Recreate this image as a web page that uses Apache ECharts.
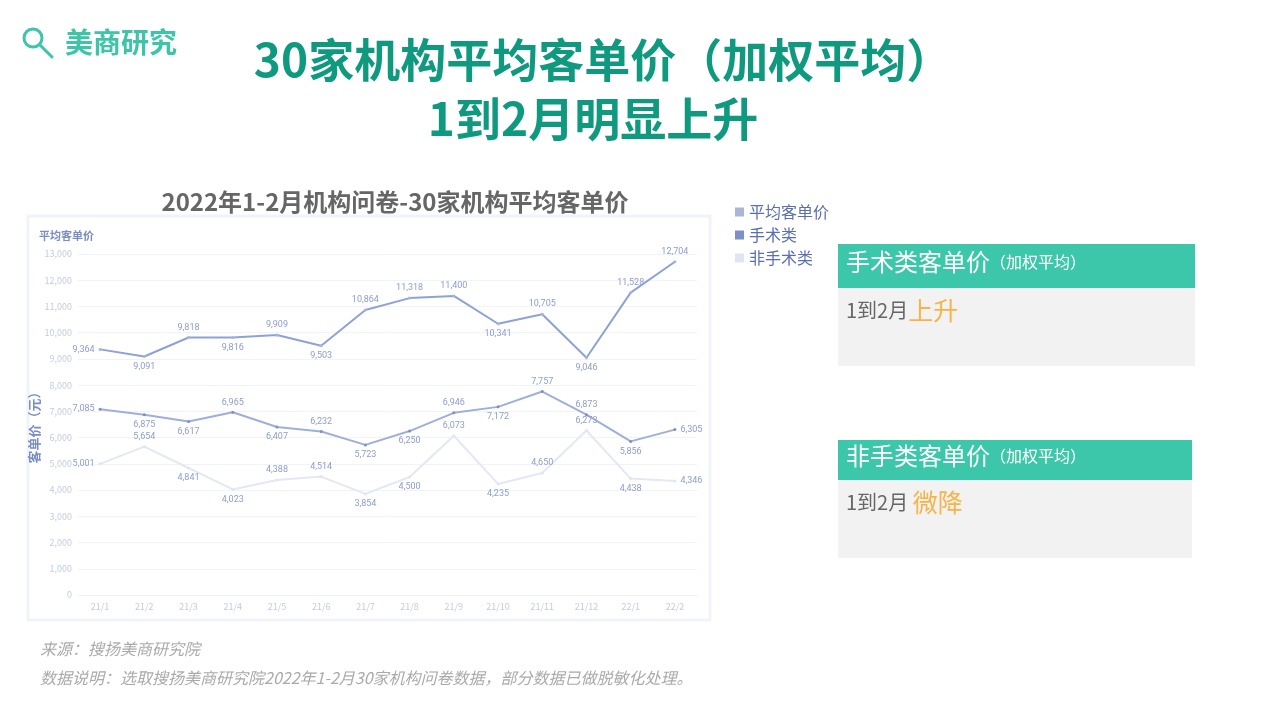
<!DOCTYPE html>
<html><head><meta charset="utf-8">
<script src="https://cdn.jsdelivr.net/npm/echarts@6/dist/echarts.min.js"></script>
<style>html,body{margin:0;padding:0;background:#fff;}#c{width:1268px;height:713px;}</style>
</head><body><div id="c"></div>
<script>
const categories = ['21/1','21/2','21/3','21/4','21/5','21/6','21/7','21/8','21/9','21/10','21/11','21/12','22/1','22/2'];
const avgValues = [9364, 9091, 9818, 9816, 9909, 9503, 10864, 11318, 11400, 10341, 10705, 9046, 11528, 12704];
const surgeryValues = [7085, 6875, 6617, 6965, 6407, 6232, 5723, 6250, 6946, 7172, 7757, 6873, 5856, 6305];
const nonSurgeryValues = [5001, 5654, 4841, 4023, 4388, 4514, 3854, 4500, 6073, 4235, 4650, 6273, 4438, 4346];
const seriesNames = ['平均客单价', '手术类', '非手术类'];
const avgLabelPos = ['left','bottom','top','bottom','top','bottom','top','top','top','bottom','top','bottom','top','top'];
const surgeryLabelPos = ['left','bottom','bottom','top','bottom','top','bottom','bottom','top','bottom','top','top','bottom','right'];
const nonSurgeryLabelPos = ['left','top','bottom','bottom','top','top','bottom','bottom','top','bottom','top','top','bottom','right'];

const chart = echarts.init(document.getElementById('c'));
const fmt = v => Number(v).toLocaleString('en-US');
function mk(vals, pos) {
  return vals.map((v, i) => ({ value: v, label: { position: pos[i] } }));
}
const labelStyle = { show: true, fontSize: 9, color: '#8d9dcb', distance: 4, formatter: p => fmt(p.value), fontFamily: 'Roboto' };
const teal = '#0f9a80';
const logo = '#3cc5a8';
const cjk = '"Noto Sans CJK SC"';
chart.setOption({
  animation: false,
  textStyle: { fontFamily: '"Noto Sans CJK SC", "Noto Sans", sans-serif' },
  title: [
    { text: '30家机构平均客单价（加权平均）', left: 598, textAlign: 'center', top: 32, textStyle: { fontSize: 46, fontWeight: 'bold', color: teal } },
    { text: '1到2月明显上升', left: 588, textAlign: 'center', top: 91, textStyle: { fontSize: 46, fontWeight: 'bold', color: teal } },
    { text: '2022年1-2月机构问卷-30家机构平均客单价', left: 390, textAlign: 'center', top: 185, textStyle: { fontSize: 24, fontWeight: 'bold', color: '#666' } },
    { text: '平均客单价', left: 34, top: 225, textStyle: { fontSize: 11, fontWeight: 'bold', color: '#7b8dc2' } }
  ],
  legend: {
    orient: 'vertical', left: 730, top: 199, itemWidth: 9, itemHeight: 9, itemGap: 7, icon: 'rect',
    textStyle: { fontSize: 16, color: '#5a6eb0' },
    data: seriesNames
  },
  grid: { left: 78, right: 571, top: 254, bottom: 118 },
  xAxis: {
    type: 'category', data: categories, boundaryGap: true,
    axisLine: { show: true, lineStyle: { color: '#eef1f7' } }, axisTick: { show: false },
    axisLabel: { fontSize: 9, color: '#c3cbe0', margin: 7 }
  },
  yAxis: {
    type: 'value', min: 0, max: 13000, interval: 1000,
    name: '客单价（元）', nameLocation: 'middle', nameGap: 28, nameRotate: 90,
    nameTextStyle: { fontSize: 13, color: '#7b8dc2', fontWeight: 'bold' },
    axisLabel: { fontSize: 9, color: '#c3cbe0', formatter: v => fmt(v), margin: 6 },
    axisLine: { show: false }, axisTick: { show: false },
    splitLine: { lineStyle: { color: '#f1f3f9' } }
  },
  series: [
    { name: seriesNames[0], type: 'line', data: mk(avgValues, avgLabelPos), symbol: 'circle', symbolSize: 3,
      itemStyle: { color: '#a9b6d8' }, lineStyle: { color: '#8fa2d4', width: 2 }, label: labelStyle },
    { name: seriesNames[1], type: 'line', data: mk(surgeryValues, surgeryLabelPos), symbol: 'circle', symbolSize: 3,
      itemStyle: { color: '#7d91c6' }, lineStyle: { color: '#a0afda', width: 2 }, label: labelStyle },
    { name: seriesNames[2], type: 'line', data: mk(nonSurgeryValues, nonSurgeryLabelPos), symbol: 'circle', symbolSize: 3,
      itemStyle: { color: '#e0e5f1' }, lineStyle: { color: '#e4e8f4', width: 2 }, label: labelStyle }
  ],
  graphic: [
    { type: 'rect', z: -10, shape: { x: 28, y: 216, width: 682, height: 404 }, style: { fill: '#fff', stroke: '#f0f3f9', lineWidth: 3 } },
    { type: 'circle', shape: { cx: 33, cy: 38, r: 9 }, style: { fill: 'none', stroke: logo, lineWidth: 3 } },
    { type: 'line', shape: { x1: 40, y1: 45, x2: 52, y2: 57 }, style: { stroke: logo, lineWidth: 3, lineCap: 'round' } },
    { type: 'text', left: 65, top: 28, style: { text: '美商研究', fontSize: 28, fontWeight: 'bold', fill: logo, fontFamily: cjk } },
    { type: 'rect', shape: { x: 838, y: 244, width: 357, height: 44 }, style: { fill: '#3dc7aa' } },
    { type: 'rect', shape: { x: 838, y: 288, width: 357, height: 78 }, style: { fill: '#f2f2f2' } },
    { type: 'text', left: 846, top: 250, style: { text: '{a|手术类客单价}{b|（加权平均）}', rich: { a: { fontSize: 24, fill: '#fff', fontFamily: cjk }, b: { fontSize: 16, fill: '#fff', fontFamily: cjk } } } },
    { type: 'text', left: 846, top: 298, style: { text: '{a|1到2月}{b|上升}', rich: { a: { fontSize: 20, fill: '#666', fontFamily: cjk }, b: { fontSize: 25, fill: '#f7b348', fontFamily: cjk } } } },
    { type: 'rect', shape: { x: 838, y: 440, width: 354, height: 40 }, style: { fill: '#3dc7aa' } },
    { type: 'rect', shape: { x: 838, y: 480, width: 354, height: 78 }, style: { fill: '#f2f2f2' } },
    { type: 'text', left: 846, top: 444, style: { text: '{a|非手类客单价}{b|（加权平均）}', rich: { a: { fontSize: 24, fill: '#fff', fontFamily: cjk }, b: { fontSize: 16, fill: '#fff', fontFamily: cjk } } } },
    { type: 'text', left: 846, top: 490, style: { text: '{a|1到2月 }{b|微降}', rich: { a: { fontSize: 20, fill: '#666', fontFamily: cjk }, b: { fontSize: 25, fill: '#f7b348', fontFamily: cjk } } } },
    { type: 'text', left: 40, top: 641, style: { text: '来源：搜扬美商研究院', fontSize: 16, fill: '#aaa', fontStyle: 'italic', fontFamily: cjk } },
    { type: 'text', left: 40, top: 670, style: { text: '数据说明：选取搜扬美商研究院2022年1-2月30家机构问卷数据，部分数据已做脱敏化处理。', fontSize: 16, fill: '#aaa', fontStyle: 'italic', fontFamily: cjk } }
  ]
});
</script></body></html>
